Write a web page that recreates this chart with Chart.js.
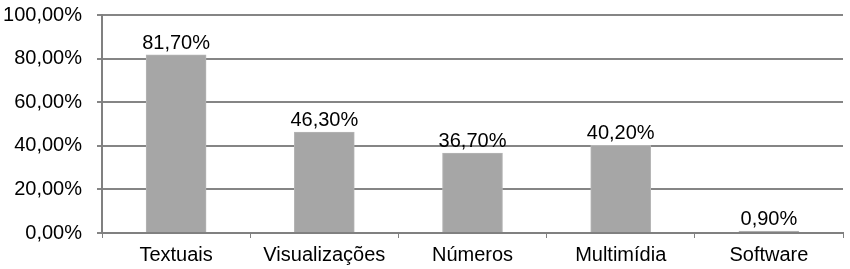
<!DOCTYPE html>
<html><head><meta charset="utf-8">
<script src="https://cdn.jsdelivr.net/npm/chart.js@4"></script>
<style>html,body{margin:0;padding:0;background:#fff}#w{width:850px;height:269px}</style>
</head><body><div id="w"><canvas id="c" width="850" height="269"></canvas></div>
<script>
const categories = ["Textuais", "Visualizações", "Números", "Multimídia", "Software"];
const values = [81.7, 46.3, 36.7, 40.2, 0.9];
const yTicks = [0, 20, 40, 60, 80, 100];

const fmt = v => v.toFixed(2).replace('.', ',') + '%';
const FONT = '"Liberation Sans", Arial, sans-serif';

const labelPlugin = {
  id: 'lbl',
  afterDatasetsDraw(chart) {
    const ctx = chart.ctx;
    const meta = chart.getDatasetMeta(0);
    ctx.save();
    ctx.font = '20px ' + FONT;
    ctx.fillStyle = '#000';
    ctx.textAlign = 'center';
    ctx.textBaseline = 'alphabetic';
    meta.data.forEach((bar, i) => {
      ctx.fillText(fmt(values[i]), bar.x, bar.y - 6);
    });
    ctx.restore();
  }
};

new Chart(document.getElementById('c'), {
  type: 'bar',
  data: {
    labels: categories,
    datasets: [{
      data: values,
      backgroundColor: '#a6a6a6',
      borderColor: '#b5b5b5',
      borderWidth: 1,
      barThickness: 60
    }]
  },
  options: {
    responsive: false,
    animation: false,
    devicePixelRatio: 1,
    layout: { padding: { top: 15, right: 7, left: 0, bottom: 0 } },
    plugins: { legend: { display: false }, tooltip: { enabled: false } },
    scales: {
      x: {
        grid: { drawOnChartArea: false, drawTicks: true, tickLength: 5, color: '#808080', offset: true },
        border: { color: '#808080', width: 2 },
        ticks: { color: '#000', font: { family: FONT, size: 20 }, padding: 5, maxRotation: 0, autoSkip: false },
        afterFit(s) { s.height = 36; s.paddingLeft = 0; s.paddingRight = 0; }
      },
      y: {
        min: 0, max: 100,
        afterBuildTicks(s) { s.ticks = yTicks.map(v => ({ value: v })); },
        grid: { color: '#858585', lineWidth: 2, drawTicks: true, tickLength: 5 },
        border: { color: '#808080', width: 2 },
        ticks: { color: '#000', font: { family: FONT, size: 20 }, padding: 15, callback: v => fmt(v) },
        afterFit(s) { s.width = 102; s.paddingTop = 0; s.paddingBottom = 0; }
      }
    }
  },
  plugins: [labelPlugin]
});
</script></body></html>
